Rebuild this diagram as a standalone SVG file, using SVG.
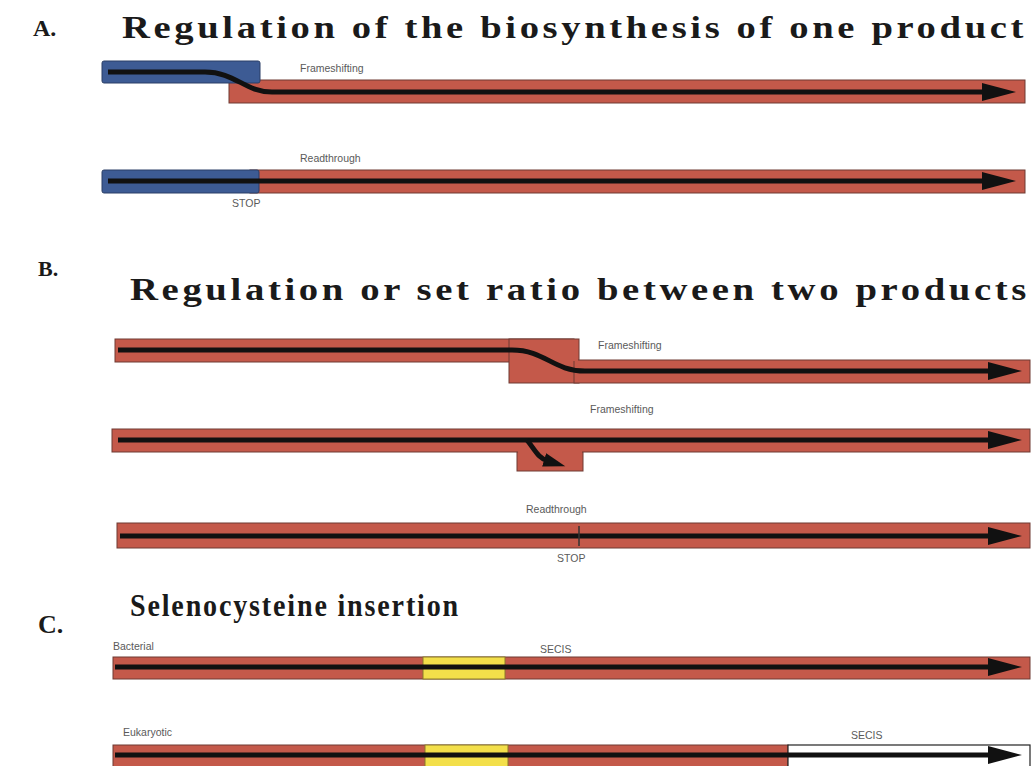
<svg xmlns="http://www.w3.org/2000/svg" width="1035" height="766" viewBox="0 0 1035 766">
<style>
.title{font-family:"Liberation Serif",serif;font-weight:bold;fill:#1a1a1a}
.lbl{font-family:"Liberation Sans",sans-serif;font-size:10.5px;fill:#5a5a5a}
.red{fill:#c4594a;stroke:#6e3a33;stroke-width:1}
.blue{fill:#3d5b94;stroke:#2b3f66;stroke-width:1}
.yel{fill:#f3df4a;stroke:#8a7a2a;stroke-width:1}
.wht{fill:#ffffff;stroke:#222;stroke-width:1.2}
.ln{fill:none;stroke:#111;stroke-width:5}
</style>
<defs>
<marker id="ah" markerUnits="userSpaceOnUse" markerWidth="36" markerHeight="22" refX="4" refY="11" orient="auto">
<path d="M0,2 L34,11 L0,20 Z" fill="#111"/>
</marker>
<marker id="ahs" markerUnits="userSpaceOnUse" markerWidth="24" markerHeight="16" refX="4" refY="8" orient="auto">
<path d="M0,1 L22,8 L0,15 Z" fill="#111"/>
</marker>
</defs>
<rect width="1035" height="766" fill="#ffffff"/>

<g id="titles">
<text class="title" x="33" y="36" font-size="24">A.</text>
<text class="title" x="122" y="38" font-size="32" letter-spacing="3" textLength="905" lengthAdjust="spacingAndGlyphs">Regulation of the biosynthesis of one product</text>
<text class="title" x="38" y="276" font-size="22">B.</text>
<text class="title" x="130" y="300" font-size="32" letter-spacing="3" textLength="900" lengthAdjust="spacingAndGlyphs">Regulation or set ratio between two products</text>
<text class="title" x="38" y="633" font-size="26">C.</text>
<text class="title" x="130" y="616" font-size="31" letter-spacing="2" textLength="330" lengthAdjust="spacingAndGlyphs">Selenocysteine insertion</text>
</g>

<g id="rowA1">
<rect class="red" x="229" y="80" width="796" height="23"/>
<rect class="blue" x="102" y="61" width="158" height="22" rx="2"/>
<text class="lbl" x="300" y="72">Frameshifting</text>
</g>

<g id="rowA2">
<rect class="red" x="250" y="170" width="775" height="23"/>
<rect class="blue" x="102" y="170" width="157" height="23" rx="2"/>
<text class="lbl" x="300" y="162">Readthrough</text>
<text class="lbl" x="232" y="207">STOP</text>
</g>

<g id="rowB1">
<rect class="red" x="115" y="339" width="459" height="23"/>
<rect class="red" x="509" y="339" width="70" height="44"/>
<rect class="red" x="574" y="360" width="456" height="23"/>
<rect fill="#c4594a" x="510" y="340" width="68" height="21"/>
<text class="lbl" x="598" y="349">Frameshifting</text>
</g>

<g id="rowB2">
<rect class="red" x="517" y="440" width="66" height="31"/>
<rect class="red" x="112" y="429" width="918" height="23"/>
<rect fill="#c4594a" x="518" y="451" width="64" height="4"/>
<text class="lbl" x="590" y="413">Frameshifting</text>
</g>

<g id="rowB3">
<rect class="red" x="117" y="523" width="913" height="25"/>
<text class="lbl" x="526" y="513">Readthrough</text>
<text class="lbl" x="557" y="562">STOP</text>
</g>

<g id="rowC1">
<rect class="red" x="113" y="657" width="917" height="22"/>
<rect class="yel" x="423" y="657" width="82" height="22"/>
<text class="lbl" x="113" y="650">Bacterial</text>
<text class="lbl" x="540" y="653">SECIS</text>
</g>

<g id="rowC2">
<rect class="red" x="113" y="745" width="675" height="24"/>
<rect class="yel" x="425" y="745" width="83" height="24"/>
<rect class="wht" x="788" y="745" width="242" height="24"/>
<text class="lbl" x="123" y="736">Eukaryotic</text>
<text class="lbl" x="851" y="739">SECIS</text>
</g>

<g id="connectors">
<path class="ln" d="M108,72 L205,72 C235,72 245,92 272,92 L986,92" marker-end="url(#ah)"/>
<path class="ln" d="M108,181 L986,181" marker-end="url(#ah)"/>
<path class="ln" d="M118,350 L512,350 C545,350 553,371 585,371 L992,371" marker-end="url(#ah)"/>
<path class="ln" d="M118,440 L992,440" marker-end="url(#ah)"/>
<path class="ln" d="M527,440 C535,450 538,458 548,461" stroke-width="4" marker-end="url(#ahs)"/>
<path class="ln" d="M120,536 L992,536" marker-end="url(#ah)"/>
<path d="M579,526 L579,546" stroke="#333" stroke-width="1.5"/>
<path class="ln" d="M115,667 L992,667" marker-end="url(#ah)"/>
<path class="ln" d="M115,755 L992,755" marker-end="url(#ah)"/>
</g>
</svg>
